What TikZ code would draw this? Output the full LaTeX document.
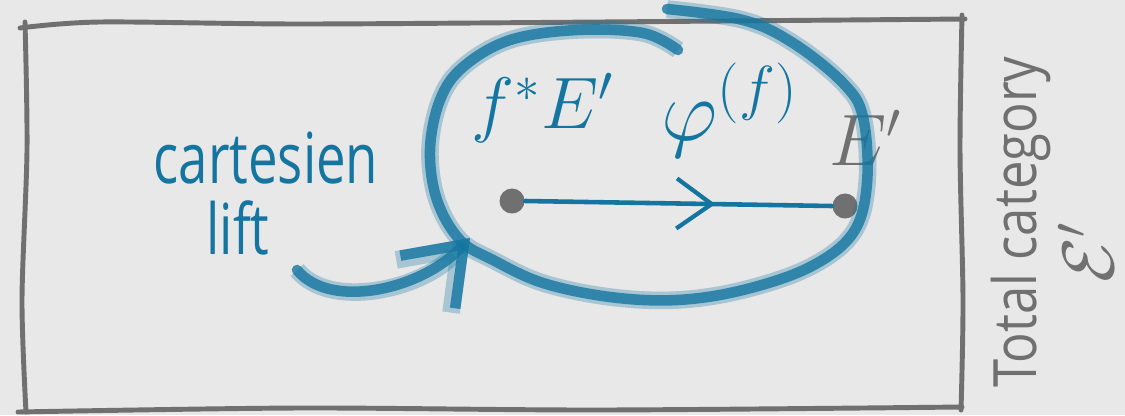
\documentclass[tikz,border=0pt]{standalone}
\usepackage{fontspec}
\setmainfont{Open Sans}
\usetikzlibrary{arrows.meta,positioning,decorations.markings}
\definecolor{penblue}{RGB}{20,118,160}
\definecolor{pengray}{RGB}{112,112,112}
\definecolor{paper}{RGB}{232,232,232}
\tikzset{
 crayon/.style={draw=penblue,line width=3pt,opacity=.8,line cap=round,line join=round,
   preaction={draw=penblue,line width=5pt,opacity=.3}},
 frame/.style={draw=pengray,line width=1.4pt,line cap=round},
 dot/.style={circle,fill=pengray,inner sep=0pt,minimum size=0.25cm},
 bluelabel/.style={text=penblue,inner sep=1pt},
 graylabel/.style={text=pengray,inner sep=1pt},
 midarrow/.style={postaction={decorate},decoration={markings,
   mark=at position 0.62 with {\arrow{Straight Barb[length=3.5mm,width=5mm,line width=1.2pt]}}}}
}
\begin{document}
\begin{tikzpicture}[x=0.01cm,y=-0.01cm]
\fill[paper] (0,0) rectangle (1125,415);
\draw[frame] plot[smooth] coordinates {(20,28) (100,22) (300,24) (600,22) (965,19)};
\draw[frame] plot[smooth] coordinates {(25,22) (27,150) (22,300) (26,412)};
\draw[frame] plot[smooth] coordinates {(18,412) (300,408) (600,410) (962,407)};
\draw[frame] plot[smooth] coordinates {(962,15) (960,150) (963,300) (961,410)};
\node[dot] (src) at (512,201) {};
\node[dot] (tgt) at (845,206) {};
\node[graylabel,font=\fontsize{22}{24}\selectfont] (eprime) at (866,138) {$E'$};
\draw[penblue,line width=1.3pt,line cap=round,midarrow] (src.east) -- (tgt.west);
\draw[crayon] plot[smooth,tension=0.6] coordinates {(667,9) (743,20) (793,43) (843,83) (863,117) (867,183) (853,233) (810,267) (743,290) (677,300) (610,297) (543,283) (493,260) (460,240) (437,200) (430,150) (440,100) (463,67) (510,40) (577,30) (643,33) (678,50)};
\node[bluelabel,font=\fontsize{22}{24}\selectfont] (fstar) at (543,108) {$f^{*}E'$};
\node[bluelabel,font=\fontsize{24}{26}\selectfont] (phi) at (730,110) {$\varphi^{(f)}$};
\node[bluelabel,font=\fontsize{20}{24}\selectfont,xscale=0.75,transform shape] (cartesien) at (266,158) {cartesien};
\node[bluelabel,font=\fontsize{20}{24}\selectfont,xscale=0.75,transform shape] (lift) at (238,228) {lift};
\coordinate (liftend) at (470,238);
\draw[crayon,-{Straight Barb[length=5.2mm,width=7.6mm]}] (297,270) .. controls (330,310) and (420,290) .. (liftend);
\node[graylabel,rotate=90,font=\fontsize{17}{20}\selectfont,xscale=0.85,transform shape] (total) at (1021,222) {Total category};
\node[graylabel,rotate=90,font=\fontsize{22}{24}\selectfont] (calE) at (1086,252) {$\mathcal{E}'$};
\end{tikzpicture}
\end{document}
